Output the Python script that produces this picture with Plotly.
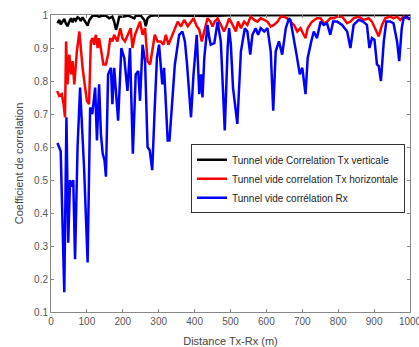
import plotly.graph_objects as go

# ---- data ----
vert_x = [18, 23, 27, 32, 37, 41, 46, 51, 56, 60, 65, 69, 74, 79, 83, 88, 93, 97, 102, 107,
          111, 116, 125, 134, 144, 153, 162, 171, 176, 181, 185, 190, 199, 213, 222, 232, 236,
          250, 260, 264, 269, 278, 300, 350, 400, 445, 500, 600, 700, 800, 900, 1000]
vert_y = [0.975, 0.985, 0.972, 0.982, 0.988, 0.975, 0.966, 0.98, 0.99, 0.978, 0.99, 0.983, 0.993,
          0.99, 0.982, 0.993, 0.985, 0.978, 0.968, 0.985, 0.99, 0.998, 0.998, 0.995, 0.998, 0.998,
          0.99, 0.995, 0.98, 0.955, 0.97, 0.995, 0.995, 0.998, 0.995, 0.99, 0.998, 0.998, 0.985,
          0.966, 0.99, 0.998, 0.999, 0.998, 0.999, 0.997, 0.999, 0.999, 1.0, 0.999, 1.0, 1.0]

horiz_x = [17, 23, 30, 35, 39, 42, 46, 51, 56, 60, 65, 72, 79, 83, 88, 95, 100, 106, 111, 116,
           120, 125, 130, 134, 139, 146, 153, 159, 165, 171, 176, 185, 193, 199, 206, 213, 222,
           227, 234, 241, 248, 255, 262, 269, 276, 282, 289, 297, 306, 313, 320, 327, 334, 344,
           353, 362, 371, 381, 390, 397, 406, 413, 420, 429, 436, 444, 450, 456, 464, 473, 482,
           490, 496, 506, 515, 521, 529, 538, 547, 556, 566, 575, 584, 594, 603, 612, 621, 631,
           640, 649, 658, 667, 677, 686, 695, 704, 709, 715, 727, 741, 751, 760, 769, 778, 788,
           797, 811, 825, 834, 843, 857, 871, 885, 894, 903, 913, 922, 931, 945, 954, 964, 973,
           982, 991, 1000]
horiz_y = [0.77, 0.755, 0.76, 0.73, 0.69, 0.92, 0.79, 0.88, 0.82, 0.86, 0.79, 0.89, 0.95, 0.90,
           0.84, 0.78, 0.74, 0.73, 0.92, 0.93, 0.91, 0.94, 0.90, 0.93, 0.89, 0.85, 0.85, 0.88,
           0.93, 0.92, 0.94, 0.92, 0.96, 0.93, 0.92, 0.94, 0.96, 0.90, 0.94, 0.96, 0.98, 0.94,
           0.96, 0.86, 0.85, 0.89, 0.94, 0.92, 0.92, 0.91, 0.94, 0.91, 0.93, 0.96, 0.98, 0.965,
           0.985, 0.966, 0.98, 0.99, 0.966, 0.955, 0.92, 0.96, 0.99, 0.98, 0.965, 0.98, 0.99,
           0.97, 0.95, 0.97, 0.99, 0.97, 0.95, 0.98, 0.96, 0.98, 0.97, 0.995, 0.985, 0.98, 0.99,
           0.985, 0.98, 0.965, 0.97, 0.98, 0.995, 0.995, 0.99, 0.98, 0.97, 0.95, 0.96, 0.94,
           0.93, 0.96, 0.98, 0.99, 0.99, 0.975, 0.98, 0.99, 0.99, 0.995, 0.995, 0.975, 0.98,
           0.99, 0.995, 0.985, 0.99, 0.98, 0.96, 0.935, 0.97, 0.99, 0.995, 0.99, 0.995, 0.985,
           0.995, 0.99, 0.99]

rx_x = [18, 27, 37, 41, 43, 48, 53, 58, 62, 67, 74, 81, 92, 102, 109, 115, 123, 128, 134, 139,
        144, 149, 153, 159, 167, 171, 176, 187, 196, 204, 213, 220, 228, 236, 243, 248, 255, 262,
        269, 275, 282, 289, 295, 301, 310, 315, 325, 330, 345, 357, 366, 373, 379, 390, 397, 406,
        413, 418, 422, 427, 436, 441, 445, 455, 464, 473, 484, 492, 496, 501, 507, 519, 529, 540,
        547, 555, 561, 570, 577, 584, 594, 603, 612, 619, 626, 635, 644, 654, 663, 667, 677, 684,
        693, 700, 709, 715, 725, 732, 741, 751, 760, 769, 778, 786, 797, 811, 825, 834, 843, 857,
        869, 880, 887, 894, 901, 908, 913, 919, 927, 934, 945, 954, 964, 970, 977, 982, 991, 1000]
rx_y = [0.612, 0.587, 0.16, 0.49, 0.69, 0.31, 0.50, 0.48, 0.50, 0.26, 0.60, 0.78, 0.54, 0.25,
        0.72, 0.70, 0.78, 0.62, 0.79, 0.64, 0.58, 0.56, 0.51, 0.82, 0.84, 0.73, 0.84, 0.68, 0.90,
        0.87, 0.77, 0.90, 0.58, 0.82, 0.83, 0.74, 0.91, 0.86, 0.60, 0.59, 0.53, 0.72, 0.87, 0.91,
        0.79, 0.84, 0.62, 0.62, 0.85, 0.94, 0.95, 0.92, 0.85, 0.69, 0.82, 0.94, 0.76, 0.82, 0.75,
        0.87, 0.97, 0.93, 0.91, 0.915, 0.98, 0.92, 0.65, 0.90, 0.96, 0.91, 0.78, 0.67, 0.89, 0.96,
        0.95, 0.88, 0.94, 0.96, 0.94, 0.96, 0.95, 0.96, 0.89, 0.71, 0.89, 0.92, 0.88, 0.96, 0.99,
        0.985, 0.93, 0.88, 0.82, 0.84, 0.76, 0.87, 0.92, 0.95, 0.93, 0.98, 0.97, 0.975, 0.94,
        0.98, 0.98, 0.97, 0.95, 0.90, 0.97, 0.985, 0.98, 0.97, 0.90, 0.93, 0.925, 0.85, 0.845,
        0.80, 0.92, 0.98, 0.98, 0.975, 0.92, 0.86, 0.96, 0.99, 0.995, 0.985]

series_names = ["Tunnel vide Correlation Tx verticale",
                "Tunnel vide correlation Tx horizontale",
                "Tunnel vide corrélation Rx"]
series_colors = ["#000000", "#ff0000", "#0000ff"]

x_ticks = [0, 100, 200, 300, 400, 500, 600, 700, 800, 900, 1000]
y_ticks = [0.1, 0.2, 0.3, 0.4, 0.5, 0.6, 0.7, 0.8, 0.9, 1.0]
y_ticktext = ["0.1", "0.2", "0.3", "0.4", "0.5", "0.6", "0.7", "0.8", "0.9", "1"]

FONT = "Liberation Sans, Arial, sans-serif"

fig = go.Figure()
for xs, ys, name, col in zip([vert_x, horiz_x, rx_x], [vert_y, horiz_y, rx_y],
                             series_names, series_colors):
    fig.add_trace(go.Scatter(x=xs, y=ys, mode="lines", name=name,
                             line=dict(color=col, width=2.5)))

axis_common = dict(showline=True, linecolor="#888888", linewidth=1, mirror="ticks",
                   ticks="inside", ticklen=3, tickcolor="#888888", showgrid=False,
                   zeroline=False, automargin=False,
                   tickfont=dict(family=FONT, size=10, color="#555555"))

fig.update_layout(
    width=419, height=347,
    margin=dict(l=51, r=9, t=15, b=35, autoexpand=False),
    paper_bgcolor="white", plot_bgcolor="white",
    font=dict(family=FONT, size=10, color="#444444"),
    showlegend=True,
    legend=dict(x=0.986, y=0.565, xanchor="right", yanchor="top",
                bgcolor="white", bordercolor="#333333", borderwidth=1,
                font=dict(family=FONT, size=10, color="#222222"),
                tracegroupgap=0, itemwidth=30),
    xaxis=dict(range=[0, 1000], tickvals=x_ticks, ticklabeloverflow="allow",
               title=dict(text="Distance Tx-Rx (m)", standoff=11,
                          font=dict(family=FONT, size=11, color="#444444")),
               **axis_common),
    yaxis=dict(range=[0.1, 1.0], tickvals=y_ticks, ticktext=y_ticktext,
               title=dict(text="Coefficient de correlation", standoff=8,
                          font=dict(family=FONT, size=11, color="#444444")),
               **axis_common),
)

fig.write_html("out.html")
